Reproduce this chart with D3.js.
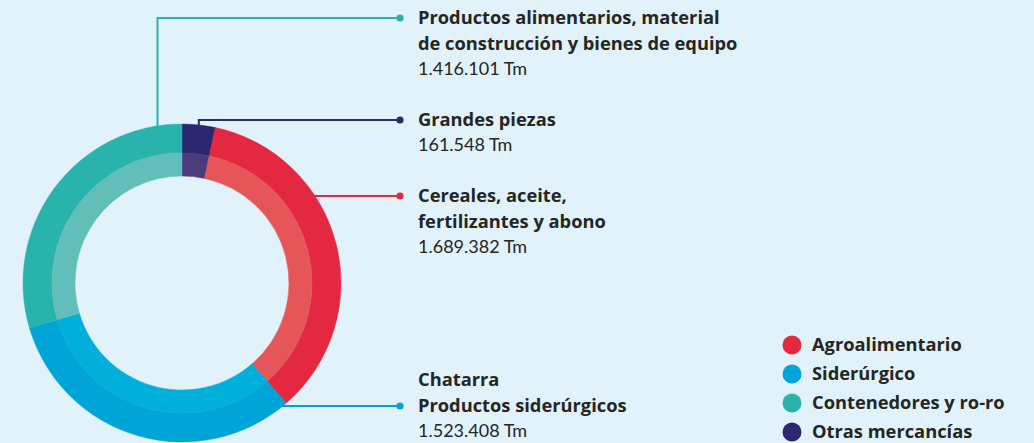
<!DOCTYPE html>
<html><head><meta charset="utf-8">
<script src="https://cdn.jsdelivr.net/npm/d3@7"></script>
<style>
html,body{margin:0;padding:0;background:#e1f2fa;}
svg{display:block;}
text{fill:#26251f;}
.t{font-family:"Open Sans", sans-serif;font-weight:700;}
.n{font-family:Lato, sans-serif;font-weight:400;}
</style></head><body>
<svg id="chart" width="1034" height="443"></svg>
<script>
// ---- data ----
const categories = ["Grandes piezas", "Cereales, aceite, fertilizantes y abono", "Chatarra / Productos siderúrgicos", "Productos alimentarios, material de construcción y bienes de equipo"];
const values = [161548, 1689382, 1523408, 1416101];
const valueLabels = ["161.548 Tm", "1.689.382 Tm", "1.523.408 Tm", "1.416.101 Tm"];
const titleLines = [["Grandes piezas"], ["Cereales, aceite,", "fertilizantes y abono"], ["Chatarra", "Productos siderúrgicos"], ["Productos alimentarios, material", "de construcción y bienes de equipo"]];
const groups = ["Otras mercancías", "Agroalimentario", "Siderúrgico", "Contenedores y ro-ro"];
const legendOrder = ["Agroalimentario", "Siderúrgico", "Contenedores y ro-ro", "Otras mercancías"];

// ---- styles / layout ----
const outerColors = {"Otras mercancías":"#2c2771","Agroalimentario":"#e32840","Siderúrgico":"#00a4d6","Contenedores y ro-ro":"#29b3ad"};
const innerColors = {"Otras mercancías":"#4a3c7c","Agroalimentario":"#e65658","Siderúrgico":"#00afda","Contenedores y ro-ro":"#62beb9"};
const cx = 182, cy = 283, rOuter = 159, rMid = 130, rInner = 107;
const labelX = 418, dotX = 400, lineH = 26;
const titleSize = 18.3, numSize = 18;
const leaderY = [120, 196, 406, 18];
const firstLineY = [120, 196, 380, 18];

const svg = d3.select("#chart");
const g = svg.append("g").attr("transform", `translate(${cx},${cy})`);

const pie = d3.pie().sort(null).value(d => d);
const arcs = pie(values);
const arcOuter = d3.arc().innerRadius(rMid).outerRadius(rOuter);
const arcInner = d3.arc().innerRadius(rInner).outerRadius(rMid);

g.selectAll("path.outer").data(arcs).join("path").attr("class","outer")
  .attr("d", arcOuter).attr("fill", (d,i) => outerColors[groups[i]])
  .attr("stroke", (d,i) => outerColors[groups[i]]).attr("stroke-width", 0.5);
g.selectAll("path.inner").data(arcs).join("path").attr("class","inner")
  .attr("d", arcInner).attr("fill", (d,i) => innerColors[groups[i]])
  .attr("stroke", (d,i) => innerColors[groups[i]]).attr("stroke-width", 0.5);

const leaders = svg.append("g");
values.forEach((v, i) => {
  const col = outerColors[groups[i]];
  let pts;
  if (i === 0) {
    const a = (arcs[i].startAngle + arcs[i].endAngle) / 2;
    const x = cx + rOuter * Math.sin(a);
    const y0 = cy - rOuter * Math.cos(a);
    pts = [[x, y0], [x, leaderY[i]], [dotX, leaderY[i]]];
  } else if (i === 3) {
    const x = cx - 24.5;
    const y0 = cy - Math.sqrt(rOuter*rOuter - 24.5*24.5) + 1;
    pts = [[x, y0], [x, leaderY[i]], [dotX, leaderY[i]]];
  } else {
    const dy = leaderY[i] - cy;
    const x0 = cx + Math.sqrt(rOuter*rOuter - dy*dy) - 1;
    pts = [[x0, leaderY[i]], [dotX, leaderY[i]]];
  }
  leaders.append("path").attr("d", d3.line()(pts)).attr("fill","none")
    .attr("stroke", col).attr("stroke-width", 2);
  leaders.append("circle").attr("cx", dotX).attr("cy", leaderY[i]).attr("r", 3.6).attr("fill", col);

  const t = svg.append("g");
  titleLines[i].forEach((ln, j) => {
    t.append("text").attr("class","t").attr("x", labelX).attr("y", firstLineY[i] + j*lineH)
      .attr("dy", "0.35em").attr("font-size", titleSize).text(ln);
  });
  t.append("text").attr("class","n").attr("x", labelX).attr("y", firstLineY[i] + titleLines[i].length*lineH - 1)
    .attr("dy", "0.35em").attr("font-size", numSize).attr("fill","#2d2c28").text(valueLabels[i]);
});

const legend = svg.append("g");
const ly = d3.scalePoint().domain(legendOrder).range([345, 432]);
legendOrder.forEach(name => {
  legend.append("circle").attr("cx", 792).attr("cy", ly(name)).attr("r", 9.5).attr("fill", outerColors[name]);
  legend.append("text").attr("class","t").attr("x", 812).attr("y", ly(name)).attr("dy","0.35em")
    .attr("font-size", titleSize).text(name);
});
</script></body></html>
